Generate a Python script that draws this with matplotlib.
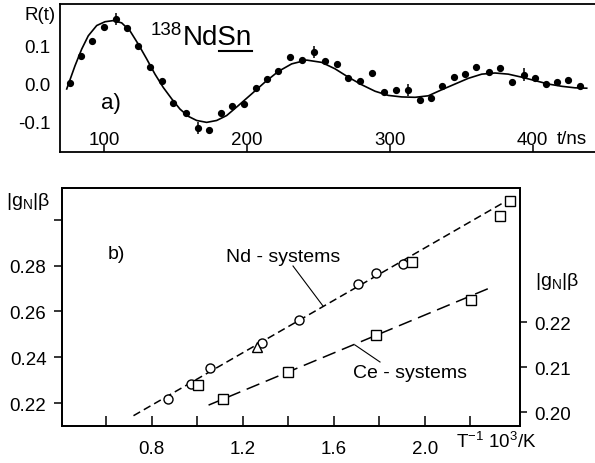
import matplotlib.pyplot as plt
from matplotlib.lines import Line2D

plt.rcParams['font.family'] = ['Liberation Sans', 'DejaVu Sans']
plt.rcParams['mathtext.fontset'] = 'custom'
plt.rcParams['mathtext.rm'] = 'Liberation Sans'
plt.rcParams['mathtext.it'] = 'Liberation Sans'

# panel a: measured R(t)
t_data = [76, 83.7, 91.6, 100, 108, 115.9, 123.4, 132.2, 140.6, 148.1, 157.4, 165.4,
          173.3, 181.7, 189.2, 197.6, 206, 213.9, 221.8, 230.3, 238.7, 247.1, 254.8,
          263, 270.9, 279.1, 287.5, 296.1, 304.3, 312.5, 321.3, 328.8, 336.7, 344.7,
          352.6, 360.5, 369.4, 377.1, 385.3, 393.9, 401.6, 409.5, 417.2, 424.9, 433.3]
r_data = [0.000, 0.073, 0.112, 0.147, 0.169, 0.146, 0.098, 0.042, 0.007, -0.052,
          -0.079, -0.117, -0.123, -0.079, -0.061, -0.055, -0.012, 0.010, 0.032, 0.068,
          0.060, 0.083, 0.058, 0.050, 0.014, 0.005, 0.026, -0.022, -0.018, -0.018,
          -0.045, -0.040, -0.006, 0.017, 0.024, 0.044, 0.029, 0.039, 0.003, 0.023,
          0.014, -0.003, 0.003, 0.009, -0.007]
# points carrying error bars
t_err = [108, 165.4, 247.1, 312.5, 393.9]
r_err = [0.169, -0.117, 0.083, -0.018, 0.023]
err_size = [0.016, 0.016, 0.016, 0.016, 0.016]

# fitted curve
t_fit = [73.7, 79.5, 84.2, 88.8, 94.7, 100.5, 106.3, 112.2, 118, 123.8, 129.7, 135.5,
         141.3, 147.2, 153, 158.8, 164.7, 171.7, 178.7, 185.7, 193.8, 203.2, 212.5,
         221.8, 231.2, 241.7, 252.2, 261.6, 270.9, 280.3, 289.6, 298.9, 308.3, 317.6,
         326.9, 336.3, 345.6, 354.9, 364.3, 373.6, 382.9, 392.3, 401.6, 410.9, 420.3,
         429.6, 437.8]
r_fit = [-0.015, 0.046, 0.090, 0.125, 0.152, 0.162, 0.165, 0.159, 0.138, 0.103, 0.064,
         0.024, -0.011, -0.041, -0.068, -0.087, -0.098, -0.103, -0.098, -0.085, -0.059,
         -0.028, 0.003, 0.031, 0.051, 0.061, 0.055, 0.038, 0.016, -0.004, -0.021,
         -0.032, -0.036, -0.037, -0.033, -0.017, -0.002, 0.013, 0.024, 0.027, 0.024,
         0.016, 0.007, -0.002, -0.008, -0.012, -0.013]

# panel b
nd_circ_x = [0.873, 0.971, 1.056, 1.285, 1.448, 1.708, 1.786, 1.903]
nd_circ_y = [0.2217, 0.2283, 0.2352, 0.2462, 0.2564, 0.2718, 0.2768, 0.2807]
nd_sq_x = [1.004, 1.944, 2.331, 2.375]
nd_sq_y = [0.2279, 0.2814, 0.3018, 0.3083]
nd_tri_x = [1.264]
nd_tri_y = [0.2443]
nd_line_x = [0.72, 2.39]
nd_line_y = [0.2145, 0.310]

ce_sq_x = [1.112, 1.400, 1.786, 2.204]
ce_sq_y = [0.2030, 0.2090, 0.2172, 0.2250]
ce_line_x = [1.05, 2.28]
ce_line_y = [0.2016, 0.2275]

W, H = 595, 464
fig = plt.figure(figsize=(W / 100, H / 100), dpi=100)


def fx(px):
    return px / W


def fy(py):
    return 1 - py / H


# ---- panel a ----
ax = fig.add_axes([fx(60), fy(153), 1 - fx(60), fy(5) - fy(153)])
ax.plot(t_fit, r_fit, color='black', lw=1.2)
ax.plot(t_data, r_data, 'o', color='black', ms=4.2)
ax.errorbar(t_err, r_err, yerr=err_size, fmt='none', ecolor='black', elinewidth=1.1, capsize=0)
ax.set_xlim(69, 443.6)
ax.set_ylim(-0.181, 0.2087)
ax.spines['right'].set_visible(False)
for s in ['left', 'top', 'bottom']:
    ax.spines[s].set_linewidth(1.3)
ax.set_xticks([100, 200, 300, 400])
ax.tick_params(axis='x', direction='in', length=5, width=1.1, pad=-15, labelsize=13.5)
ax.set_yticks([0.1, 0.0, -0.1])
ax.set_yticklabels(['0.1', '0.0', '-0.1'])
ax.tick_params(axis='y', length=0, pad=7, labelsize=13.5)

fig.text(fx(40), fy(15), 'R(t)', fontsize=13.5, ha='center', va='center')
fig.text(fx(182), fy(35), '138', fontsize=13.5, ha='right', va='baseline')
# "NdSn" with only "Sn" underlined
renderer = fig.canvas.get_renderer()
name_txt = fig.text(fx(183), fy(45), 'NdSn', fontsize=20, ha='left', va='baseline')
tmp = fig.text(fx(183), fy(45), 'Nd', fontsize=20, ha='left', va='baseline')
nd_w = tmp.get_window_extent(renderer).width
tmp.remove()
box = name_txt.get_window_extent(renderer)
fig.add_artist(Line2D([(box.x0 + nd_w + 1) / W, box.x1 / W], [fy(52), fy(52)],
                      color='black', lw=1.5))
fig.text(fx(111), fy(103), 'a)', fontsize=16, ha='center', va='center')
fig.text(fx(572), fy(140), 't/ns', fontsize=13.5, ha='center', va='center')

# ---- panel b ----
axb = fig.add_axes([fx(61.7), fy(427), fx(520) - fx(61.7), fy(189) - fy(427)])
axb.plot(nd_line_x, nd_line_y, color='black', lw=1.1, dashes=(5, 2.8))
axb.plot(nd_circ_x, nd_circ_y, 'o', ms=6.5, mfc='white', mec='black', mew=1.0)
axb.plot(nd_sq_x, nd_sq_y, 's', ms=6.5, mfc='white', mec='black', mew=1.0)
axb.plot(nd_tri_x, nd_tri_y, '^', ms=7, mfc='white', mec='black', mew=1.0)
axb.set_xlim(0.4044, 2.419)
axb.set_ylim(0.2100, 0.3139)
for s in axb.spines.values():
    s.set_linewidth(1.3)
axb.set_xticks([0.6, 0.8, 1.0, 1.2, 1.4, 1.6, 1.8, 2.0, 2.2])
axb.set_xticklabels(['', '0.8', '', '1.2', '', '1.6', '', '2.0', ''])
axb.tick_params(axis='x', direction='in', length=7, width=1.1, pad=10, labelsize=13.5)
axb.set_yticks([0.22, 0.24, 0.26, 0.28, 0.30])
axb.set_yticklabels(['0.22', '0.24', '0.26', '0.28', ''])
axb.tick_params(axis='y', direction='out', length=6, width=1.1, pad=5, labelsize=13.5)

ax2 = axb.twinx()
ax2.plot(ce_line_x, ce_line_y, color='black', lw=1.1, dashes=(9, 4.5))
ax2.plot(ce_sq_x, ce_sq_y, 's', ms=6.5, mfc='white', mec='black', mew=1.0)
ax2.set_ylim(0.19696, 0.24984)
ax2.set_yticks([0.20, 0.21, 0.22])
ax2.set_yticklabels(['0.20', '0.21', '0.22'])
ax2.tick_params(axis='y', direction='out', length=5, width=1.1, pad=5, labelsize=13.5)
for s in ax2.spines.values():
    s.set_linewidth(1.3)

fig.text(fx(116), fy(255), 'b)', fontsize=14, ha='center', va='center')
fig.text(fx(283), fy(257), 'Nd - systems', fontsize=14, ha='center', va='center')
fig.text(fx(410), fy(373), 'Ce - systems', fontsize=14, ha='center', va='center')
fig.add_artist(Line2D([fx(293), fx(323)], [fy(267), fy(307)], color='black', lw=0.8))
fig.add_artist(Line2D([fx(380), fx(355)], [fy(363), fy(346)], color='black', lw=0.8))
fig.text(fx(496), fy(442), r'T$^{-1}$ 10$^{3}$/K', fontsize=13.5, ha='center', va='center')
fig.text(fx(28), fy(201), r'|g$_{\mathrm{N}}$|β', fontsize=14, ha='center', va='center')
fig.text(fx(557), fy(282), r'|g$_{\mathrm{N}}$|β', fontsize=14, ha='center', va='center')

fig.savefig('out.png', dpi=100)
